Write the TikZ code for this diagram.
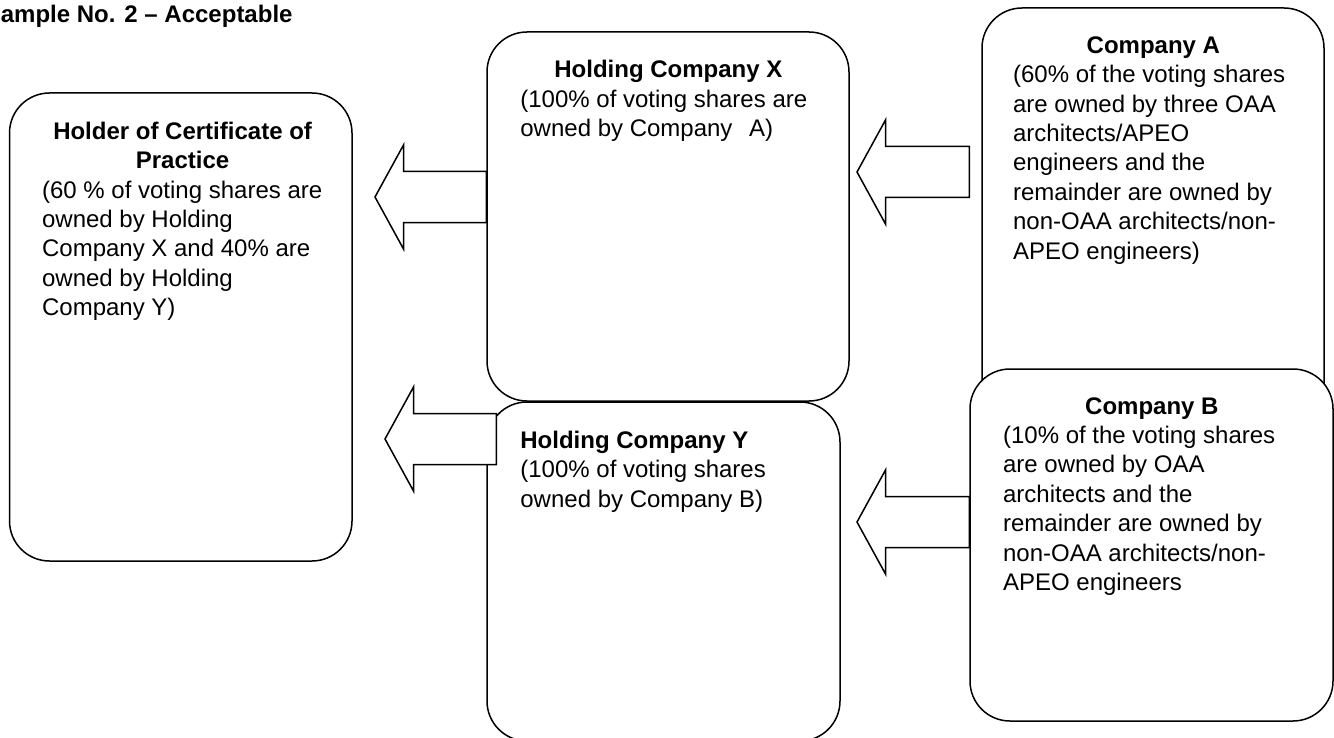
\documentclass[tikz,border=0pt]{standalone}
\usepackage{fontspec}
\setmainfont{Liberation Sans}
\usepackage{tikz}
\usetikzlibrary{calc,fit}
\newcommand{\linewd}{0.75pt}
\newcommand{\cornerradius}{20pt}
\newcommand{\headlen}{28.5}
\newcommand{\headhalf}{52}
\newcommand{\shafthalf}{25.5}
\tikzset{
  panel/.style={draw, line width=\linewd, rounded corners=\cornerradius, fill=white, inner sep=0pt},
  arrowshape/.style={draw, line width=\linewd, fill=white, line join=miter},
  txt/.style={anchor=base west, inner sep=0pt, font=\fontsize{12}{14.7}\selectfont},
}
\newcommand{\blockarrow}[2]{%
  \draw[arrowshape] (#1) -- ++(\headlen,-\headhalf) -- ++(0,\headhalf-\shafthalf)
    -- ($(#2)+(0,-\shafthalf)$) -- ($(#2)+(0,\shafthalf)$)
    -- ($(#1)+(\headlen,\shafthalf)$) -- ++(0,\headhalf-\shafthalf) -- cycle;}

\begin{document}
\begin{tikzpicture}[x=0.5pt,y=-0.5pt]
\useasboundingbox (0,0) rectangle (1334,738);
\node[txt] (title) at (0.5,22.7) {\textbf{ample No. 2 – Acceptable}};
%certificate holder
\node[panel, fit={(9.5,93) (352,561)}] (cert) {};
\node[txt] (certText) at (41.7,139.3) {\parbox[t]{140.5pt}{\centering\textbf{Holder of Certificate of\\Practice}\par\raggedright
(60 \% of voting shares are\\owned by Holding\\Company X and 40\% are\\owned by Holding\\Company Y)}};
%X
\node[panel, fit={(487,32) (849,401)}] (holdX) {};
\node[txt] (holdXText) at (520,77.7) {\parbox[t]{148pt}{\centering\textbf{Holding Company X}\par\raggedright
(100\% of voting shares are\\owned by Company \hspace{5pt}A)}};
%Y
\node[panel, fit={(487,402) (840,741)}] (holdY) {};
\node[txt] (holdYText) at (520,448.3) {\parbox[t]{150pt}{\raggedright\textbf{Holding Company Y}\\
(100\% of voting shares\\owned by Company B)}};
%A
\node[panel, fit={(982,8) (1324,440)}] (compA) {};
\node[txt] (compAText) at (1012.7,53.3) {\parbox[t]{140.3pt}{\centering\textbf{Company A}\par\raggedright
(60\% of the voting shares\\are owned by three OAA\\architects/APEO\\engineers and the\\remainder are owned by\\non-OAA architects/non-\\APEO engineers)}};
%B
\node[panel, fit={(970,369) (1333,721)}] (compB) {};
\node[txt] (compBText) at (1002.7,414) {\parbox[t]{148.8pt}{\centering\textbf{Company B}\par\raggedright
(10\% of the voting shares\\are owned by OAA\\architects and the\\remainder are owned by\\non-OAA architects/non-\\APEO engineers}};
%arrows
\coordinate (tipXC) at (375,197);
\coordinate (tailXC) at (tipXC -| holdX.west);
\coordinate (tipAX) at (857,172);
\coordinate (tailAX) at ($(tipAX -| compA.west)+(-12,0)$);
\coordinate (tipYC) at (385,439);
\coordinate (tailYC) at ($(tipYC -| holdY.west)+(10,0)$);
\coordinate (tipBY) at (857,522);
\coordinate (tailBY) at (tipBY -| compB.west);
\blockarrow{tipXC}{tailXC}
\blockarrow{tipAX}{tailAX}
\blockarrow{tipYC}{tailYC}
\blockarrow{tipBY}{tailBY}
\end{tikzpicture}
\end{document}
